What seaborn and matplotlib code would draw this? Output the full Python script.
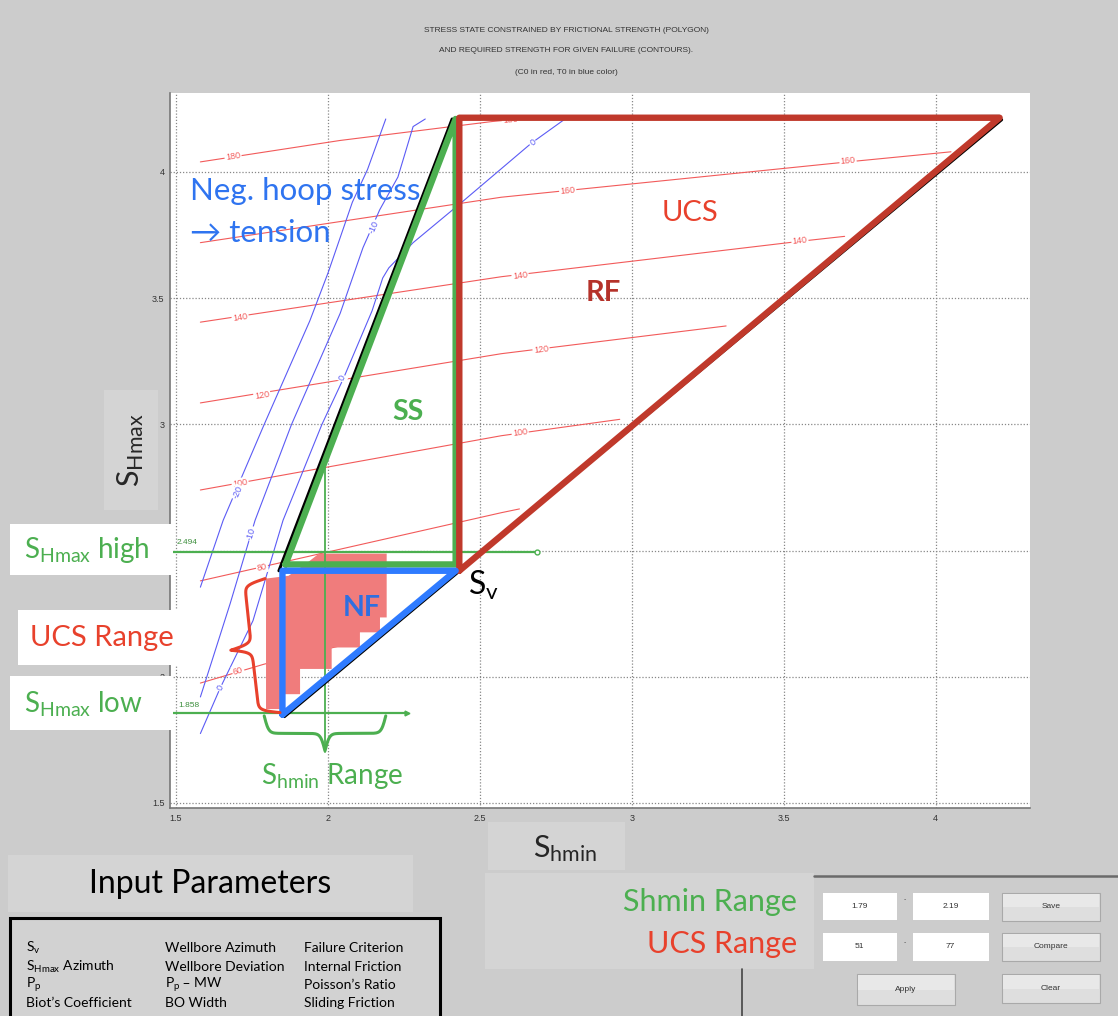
import numpy as np
import pandas as pd
import matplotlib
matplotlib.use("Agg")
import matplotlib.pyplot as plt
from matplotlib.patches import Rectangle
from matplotlib.transforms import offset_copy
import seaborn as sns

W, H = 1118, 1016

# ---------------- stress polygon (normalised stress, Shmin vs SHmax) ----------------
nf_shmin = [1.85, 1.85, 2.42, 1.85]
nf_shmax = [1.85, 2.42, 2.42, 1.85]
ss_shmin = [1.86, 2.42, 2.42, 1.86]
ss_shmax = [2.445, 4.21, 2.445, 2.445]
rf_shmin = [2.432, 2.432, 4.21, 2.432]
rf_shmax = [2.42, 4.215, 4.215, 2.42]
sv_value = 2.42

# ---------------- required UCS (C0) contours ----------------
c0_levels = [180, 160, 140, 120, 100, 80, 60]
c0_180_x = [1.58, 2.04, 2.54, 2.63]
c0_180_y = [4.04, 4.125, 4.20, 4.21]
c0_160_x = [1.58, 2.57, 3.71, 4.05]
c0_160_y = [3.72, 3.90, 4.04, 4.08]
c0_140_x = [1.58, 2.57, 3.55, 3.70]
c0_140_y = [3.405, 3.585, 3.725, 3.745]
c0_120_x = [1.58, 2.57, 3.31]
c0_120_y = [3.085, 3.28, 3.39]
c0_100_x = [1.58, 2.57, 2.96]
c0_100_y = [2.74, 2.955, 3.02]
c0_80_x = [1.58, 2.57, 2.63]
c0_80_y = [2.38, 2.65, 2.665]
c0_60_x = [1.58, 1.79, 2.10]
c0_60_y = [1.975, 2.05, 2.14]

c0_label_level = [180, 180, 160, 160, 140, 140, 140, 120, 120, 100, 100, 80, 60]
c0_label_x = [1.6875, 2.60, 2.789, 3.711, 1.711, 2.632, 3.553, 1.783, 2.701, 1.711, 2.632, 1.783, 1.704]
c0_label_y = [4.060, 4.206, 3.925, 4.044, 3.425, 3.591, 3.726, 3.115, 3.298, 2.766, 2.968, 2.433, 2.024]

# ---------------- tensile strength (T0) contours ----------------
t0_levels = [-20, -10, 0]
t0_m20_x = [1.58, 1.655, 1.79, 1.94, 2.00, 2.08, 2.13, 2.19]
t0_m20_y = [2.355, 2.62, 3.00, 3.41, 3.60, 3.88, 4.01, 4.21]
t0_m10_x = [1.58, 1.618, 1.678, 1.76, 1.88, 2.04, 2.115, 2.17, 2.23, 2.28, 2.32]
t0_m10_y = [1.92, 2.063, 2.29, 2.62, 3.00, 3.44, 3.70, 3.85, 3.98, 4.18, 4.21]
t0_0_x = [1.58, 1.645, 1.753, 1.852, 1.98, 2.05, 2.145, 2.18, 2.20, 2.28, 2.44, 2.67, 2.78]
t0_0_y = [1.775, 1.955, 2.222, 2.62, 3.00, 3.18, 3.45, 3.58, 3.62, 3.72, 3.88, 4.115, 4.21]

t0_label_level = [-20, -10, -10, 0, 0, 0]
t0_label_x = [1.704, 1.746, 2.150, 1.645, 2.046, 2.674]
t0_label_y = [2.730, 2.567, 3.782, 1.956, 3.183, 4.115]

# ---------------- selected ranges ----------------
shmin_range = [1.79, 2.19]
ucs_range = [51, 77]
shmax_high = 2.494
shmax_low = 1.858
ucs_fill_x = [1.796, 1.87, 1.93, 1.97, 2.193, 2.193, 2.171, 2.171, 2.105, 2.105,
              2.012, 2.012, 1.908, 1.908, 1.842, 1.842, 1.796]
ucs_fill_y = [2.389, 2.40, 2.45, 2.488, 2.488, 2.235, 2.235, 2.176, 2.176, 2.116,
              2.116, 2.031, 2.031, 1.931, 1.931, 1.872, 1.872]

ticks = [1.5, 2, 2.5, 3, 3.5, 4]
tick_labels = ["1.5", "2", "2.5", "3", "3.5", "4"]

# ---------------- style ----------------
sns.set_theme(style="white")
plt.rcParams["font.family"] = ["Lato", "DejaVu Sans"]
plt.rcParams["mathtext.default"] = "regular"
ML = ["Liberation Sans", "DejaVu Sans"]

RED_C = "#f25a5a"
BLUE_C = "#5b5bf5"
GREEN = "#4caf50"
RED_TXT = "#e8412c"
BLUE_TXT = "#2f74f0"
RF_RED = "#c0392b"

fig = plt.figure(figsize=(W / 100, H / 100), dpi=100, facecolor="#cccccc")


def fx(p):
    return p / W


def fy(p):
    return 1 - p / H


def frect(x0, y0, x1, y1, **kw):
    r = Rectangle((fx(x0), fy(y1)), (x1 - x0) / W, (y1 - y0) / H,
                  transform=fig.transFigure, **kw)
    fig.add_artist(r)
    return r


ax = fig.add_axes([fx(170), fy(808), (1030 - 170) / W, (808 - 93) / H])
ax.set_facecolor("white")
ax.set_xlim(1.48, 4.31)
ax.set_ylim(1.48, 4.313)
ax.set_xticks(ticks)
ax.set_xticklabels(tick_labels)
ax.set_yticks(ticks)
ax.set_yticklabels(tick_labels)
ax.tick_params(direction="in", length=3, labelsize=6.5, colors="#333333", pad=4)
for lab in ax.get_xticklabels() + ax.get_yticklabels():
    lab.set_family(ML)
ax.grid(True, linestyle=(0, (1, 1.5)), color="#888888", lw=0.9)
for side in ["top", "right"]:
    ax.spines[side].set_visible(False)
for side in ["left", "bottom"]:
    ax.spines[side].set_color("#777777")
    ax.spines[side].set_linewidth(1.2)

# ---------------- contours ----------------
c0_x = [c0_180_x, c0_160_x, c0_140_x, c0_120_x, c0_100_x, c0_80_x, c0_60_x]
c0_y = [c0_180_y, c0_160_y, c0_140_y, c0_120_y, c0_100_y, c0_80_y, c0_60_y]
t0_x = [t0_m20_x, t0_m10_x, t0_0_x]
t0_y = [t0_m20_y, t0_m10_y, t0_0_y]

df_c0 = pd.concat([pd.DataFrame({"level": lv, "shmin": xs, "shmax": ys})
                   for lv, xs, ys in zip(c0_levels, c0_x, c0_y)], ignore_index=True)
df_t0 = pd.concat([pd.DataFrame({"level": lv, "shmin": xs, "shmax": ys})
                   for lv, xs, ys in zip(t0_levels, t0_x, t0_y)], ignore_index=True)

sns.lineplot(data=df_c0, x="shmin", y="shmax", units="level", estimator=None, sort=False,
             color=RED_C, lw=0.8, ax=ax, zorder=2)
sns.lineplot(data=df_t0, x="shmin", y="shmax", units="level", estimator=None, sort=False,
             color=BLUE_C, lw=0.8, ax=ax, zorder=2)
ax.set_xlabel("")
ax.set_ylabel("")


def along_angle(xs, ys, x0, y0):
    pts = ax.transData.transform(np.column_stack([xs, ys]))
    p = ax.transData.transform((x0, y0))
    best = None
    for i in range(len(xs) - 1):
        a, b = pts[i], pts[i + 1]
        ab = b - a
        t = np.clip(np.dot(p - a, ab) / np.dot(ab, ab), 0, 1)
        d = np.linalg.norm(a + t * ab - p)
        if best is None or d < best[0]:
            best = (d, ab)
    ang = np.degrees(np.arctan2(best[1][1], best[1][0]))
    if ang > 90:
        ang -= 180
    if ang < -90:
        ang += 180
    return ang


def label_contours(levels, xs_all, ys_all, lab_lv, lab_x, lab_y, color):
    for lv, lx, ly in zip(lab_lv, lab_x, lab_y):
        i = levels.index(lv)
        ang = along_angle(xs_all[i], ys_all[i], lx, ly)
        ax.text(lx, ly, f"{lv}", color=color, fontsize=6.5, family=ML, rotation=ang,
                rotation_mode="anchor", ha="center", va="center", zorder=2.5,
                bbox=dict(boxstyle="square,pad=0.12", fc="white", ec="none"))


label_contours(c0_levels, c0_x, c0_y, c0_label_level, c0_label_x, c0_label_y, RED_C)
label_contours(t0_levels, t0_x, t0_y, t0_label_level, t0_label_x, t0_label_y, BLUE_C)

# ---------------- UCS range area inside Shmin range ----------------
ax.fill(ucs_fill_x, ucs_fill_y, color="#f07c7c", lw=0, zorder=3)

# ---------------- SHmax high / low and Shmin marker lines ----------------
ax.plot([1.48, 2.688], [shmax_high, shmax_high], color=GREEN, lw=1.6, zorder=3.2)
ax.plot([2.688], [shmax_high], marker="o", ms=3.5, mfc="white", mec=GREEN, mew=1, zorder=3.3)
ax.plot([1.48, 2.26], [shmax_low, shmax_low], color=GREEN, lw=1.6, zorder=3.2)
ax.plot([2.26], [shmax_low], marker=">", ms=3.5, color=GREEN, zorder=3.3)
ax.plot([1.99, 1.99], [1.70, 2.86], color=GREEN, lw=1.3, zorder=3.2)
ax.text(1.503, shmax_high + 0.038, f"{shmax_high:.3f}", color="#3d8f3d", fontsize=6,
        family=ML, ha="left", va="center", zorder=3.3)
ax.text(1.507, shmax_low + 0.027, f"{shmax_low:.3f}", color="#3d8f3d", fontsize=6,
        family=ML, ha="left", va="center", zorder=3.3)

# ---------------- polygon outlines ----------------
blk_ss = offset_copy(ax.transData, fig=fig, x=-3.5, y=0, units="dots")
blk_rf = offset_copy(ax.transData, fig=fig, x=2.0, y=-2.0, units="dots")
blk_top = offset_copy(ax.transData, fig=fig, x=0, y=1.5, units="dots")
ax.plot([nf_shmin[1], ss_shmin[1]], [nf_shmax[1], ss_shmax[1]], color="black", lw=2.2,
        transform=blk_ss, zorder=4)
ax.plot([nf_shmin[0], rf_shmin[2]], [nf_shmax[0], rf_shmax[2]], color="black", lw=2.2,
        transform=blk_rf, zorder=4)
ax.plot([ss_shmin[1], rf_shmin[2]], [ss_shmax[1], rf_shmax[2]], color="black", lw=2.0,
        transform=blk_top, zorder=4)

ax.plot(ss_shmin, ss_shmax, color=GREEN, lw=4.6, solid_joinstyle="round", zorder=5)
ax.plot(rf_shmin, rf_shmax, color=RF_RED, lw=4.6, solid_joinstyle="round", zorder=5.2)
ax.plot(nf_shmin, nf_shmax, color="#2f7bff", lw=4.6, solid_joinstyle="round", zorder=5.4)


# ---------------- curly braces ----------------
def curly_brace(p0, p1, depth, beta=0.45, **kw):
    a = ax.transData.transform(p0)
    b = ax.transData.transform(p1)
    d = b - a
    L = np.hypot(*d)
    u = d / L
    n = np.array([-u[1], u[0]])
    s = np.linspace(0, L / 2, 150)
    half = 1 / (1 + np.exp(-beta * (s - s[0]))) + 1 / (1 + np.exp(-beta * (s - s[-1])))
    off = (half - 0.5) * 2 * depth
    s_full = np.concatenate([s, L - s[::-1][1:]])
    off_full = np.concatenate([off, off[::-1][1:]])
    pts = a + np.outer(s_full, u) + np.outer(off_full, n)
    data = ax.transData.inverted().transform(pts)
    ax.plot(data[:, 0], data[:, 1], solid_capstyle="round", solid_joinstyle="round", **kw)


curly_brace((shmin_range[0], 1.845), (shmin_range[1], 1.845), -17.5,
            color=GREEN, lw=2.2, zorder=6)
curly_brace((1.793, 2.389), (1.842, shmax_low), -21,
            color=RED_TXT, lw=2.2, zorder=6)

# ---------------- annotations inside the axes ----------------
ax.text(1.546, 3.925, "Neg. hoop stress", color=BLUE_TXT, fontsize=22.5, ha="left", va="center", zorder=7)
ax.text(1.546, 3.758, "→ tension", color=BLUE_TXT, fontsize=22.5, ha="left", va="center", zorder=7)
ax.text(3.191, 3.837, "UCS", color=RED_TXT, fontsize=21, ha="center", va="center", zorder=7)
ax.text(2.905, 3.52, "RF", color="#b5322a", fontsize=21, fontweight="bold", ha="center", va="center", zorder=7)
ax.text(2.263, 3.048, "SS", color=GREEN, fontsize=20.5, fontweight="bold", ha="center", va="center", zorder=7)
ax.text(2.112, 2.274, "NF", color="#2f6fe0", fontsize=20.5, fontweight="bold", ha="center", va="center", zorder=7)
ax.text(sv_value + 0.09, sv_value - 0.06, r"$S_v$", color="black", fontsize=23, ha="center", va="center", zorder=7)
ax.text(2.013, 1.607, r"$S_{hmin}$ Range", color=GREEN, fontsize=20, ha="center", va="center", zorder=7)

# ---------------- figure-level texts and panels ----------------
title_lines = ["STRESS STATE CONSTRAINED BY FRICTIONAL STRENGTH (POLYGON)",
               "AND REQUIRED STRENGTH FOR GIVEN FAILURE (CONTOURS).",
               "(C0 in red, T0 in blue color)"]
for txt, yy in zip(title_lines, [30, 51, 72]):
    fig.text(fx(566), fy(yy), txt, family=ML, fontsize=6, color="#333333", ha="center", va="center")

frect(104, 390, 158, 510, fc="#d4d4d4", ec="none", zorder=1)
fig.text(fx(131), fy(450), r"$S_{Hmax}$", fontsize=22, rotation=90, ha="center", va="center", zorder=2)
frect(488, 822, 625, 870, fc="#d4d4d4", ec="none", zorder=1)
fig.text(fx(565), fy(849), r"$S_{hmin}$", fontsize=22, ha="center", va="center", zorder=2)

frect(10, 524, 173, 575, fc="white", ec="none", zorder=10)
fig.text(fx(24), fy(550), r"$S_{Hmax}$ high", color=GREEN, fontsize=20, ha="left", va="center", zorder=11)
frect(18, 610, 187, 665, fc="white", ec="none", zorder=10)
fig.text(fx(102), fy(638), "UCS Range", color=RED_TXT, fontsize=21, ha="center", va="center", zorder=11)
frect(10, 676, 173, 730, fc="white", ec="none", zorder=10)
fig.text(fx(24), fy(704), r"$S_{Hmax}$ low", color=GREEN, fontsize=20, ha="left", va="center", zorder=11)

# input parameters
frect(8, 855, 413, 912, fc="#d4d4d4", ec="none", zorder=1)
fig.text(fx(210), fy(884), "Input Parameters", fontsize=23, color="black", ha="center", va="center", zorder=2)
frect(10, 918, 440, 1030, fc="#d2d2d2", ec="black", lw=2.2, zorder=2)
param_col1 = [r"$S_v$", r"$S_{Hmax}$ Azimuth", r"$P_p$", "Biot’s Coefficient"]
param_col2 = ["Wellbore Azimuth", "Wellbore Deviation", r"$P_p$ – MW", "BO Width"]
param_col3 = ["Failure Criterion", "Internal Friction", "Poisson’s Ratio", "Sliding Friction"]
for col, xx in zip([param_col1, param_col2, param_col3], [26, 165, 304]):
    for txt, yy in zip(col, [948, 967, 985, 1003]):
        fig.text(fx(xx), fy(yy), txt, fontsize=10, color="black", ha="left", va="center", zorder=3)

# range panel
frect(485, 873, 814, 969, fc="#d4d4d4", ec="none", zorder=1)
fig.text(fx(797), fy(902), "Shmin Range", color=GREEN, fontsize=22, ha="right", va="center", zorder=2)
fig.text(fx(797), fy(944), "UCS Range", color=RED_TXT, fontsize=22, ha="right", va="center", zorder=2)
fig.add_artist(plt.Line2D([fx(814), fx(1118)], [fy(876), fy(876)], transform=fig.transFigure,
                          color="#6a6a6a", lw=1.8))
fig.add_artist(plt.Line2D([fx(742), fx(742)], [fy(969), fy(1016)], transform=fig.transFigure,
                          color="#444444", lw=1.2))

edit_boxes = [(822, 892, 897, 920, f"{shmin_range[0]:.2f}"), (912, 892, 989, 920, f"{shmin_range[1]:.2f}"),
              (822, 932, 897, 961, f"{ucs_range[0]}"), (912, 932, 989, 961, f"{ucs_range[1]}")]
for x0, y0, x1, y1, txt in edit_boxes:
    frect(x0, y0, x1, y1, fc="white", ec="#c8c8c8", lw=0.6, zorder=2)
    fig.text(fx((x0 + x1) / 2), fy((y0 + y1) / 2), txt, family=ML, fontsize=6, color="#333333",
             ha="center", va="center", zorder=3)
for yy in [900, 943]:
    fig.text(fx(905), fy(yy), "-", family=ML, fontsize=5, color="#555555", ha="center", va="center")

buttons = [(1002, 893, 1100, 921, "Save"), (1002, 933, 1100, 961, "Compare"),
           (857, 974, 955, 1005, "Apply"), (1002, 974, 1100, 1003, "Clear")]
for x0, y0, x1, y1, txt in buttons:
    frect(x0, y0, x1, y1, fc="#dedede", ec="#a9a9a9", lw=0.8, zorder=2)
    frect(x0 + 1, y0 + 1, x1 - 1, (y0 + y1) / 2, fc="#e8e8e8", ec="none", zorder=2.1)
    fig.text(fx((x0 + x1) / 2), fy((y0 + y1) / 2), txt, family=ML, fontsize=6, color="#333333",
             ha="center", va="center", zorder=3)

fig.savefig("out.png", dpi=100, facecolor=fig.get_facecolor())
